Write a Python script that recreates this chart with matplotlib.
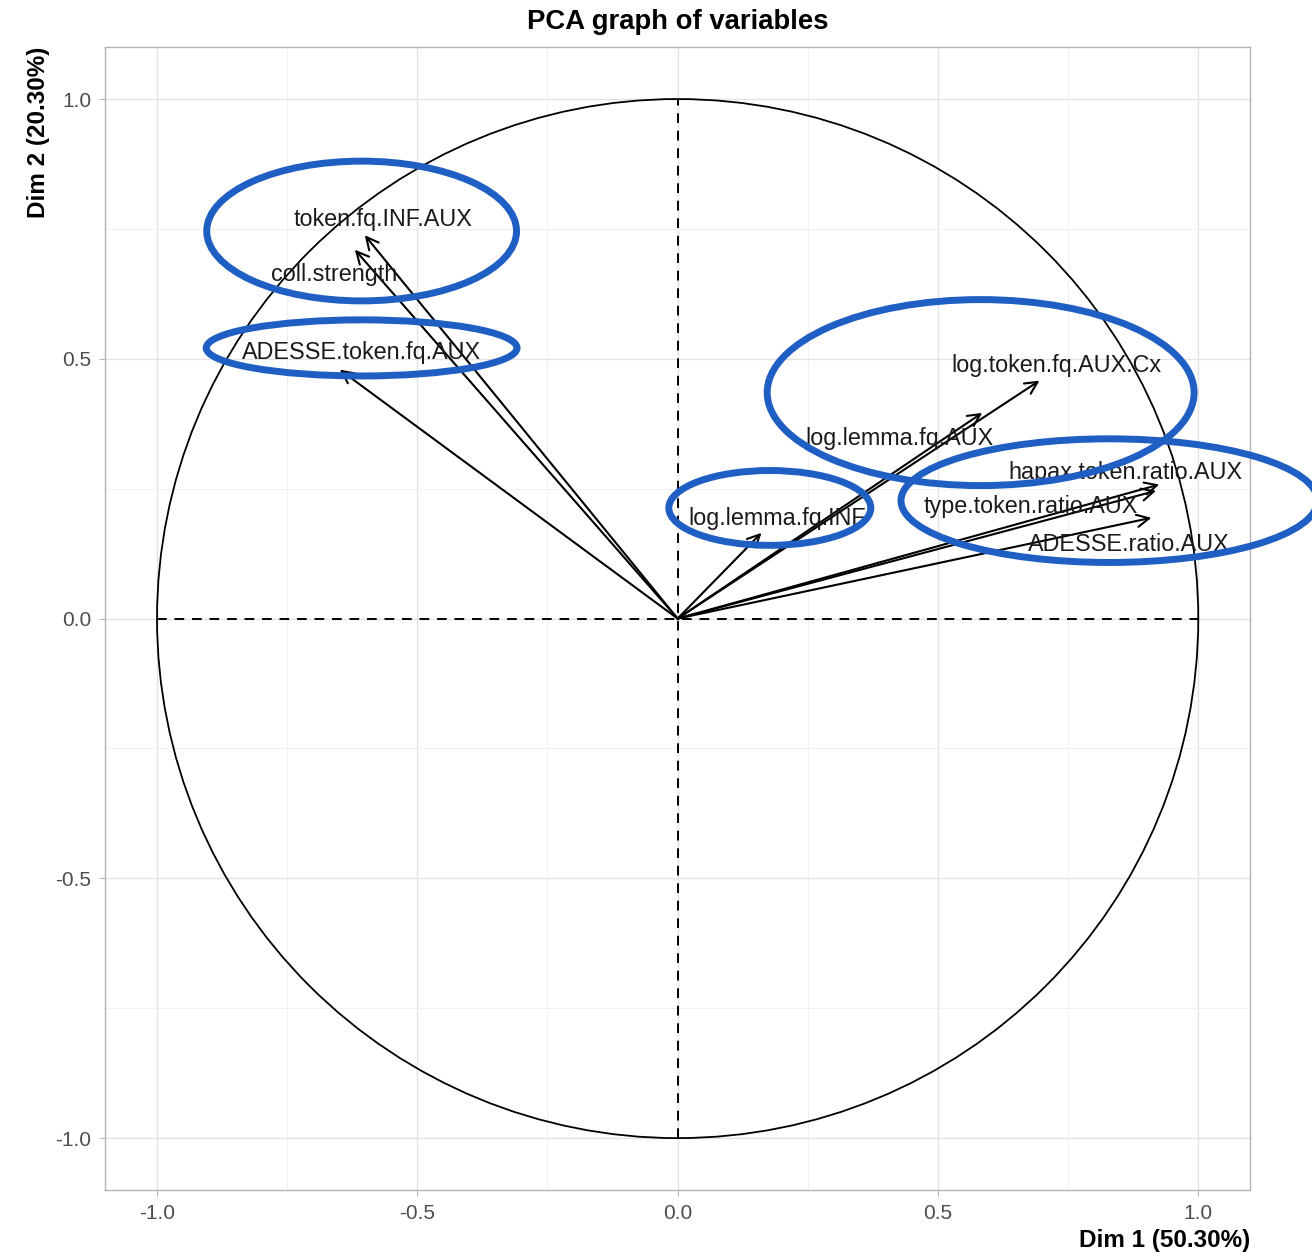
import numpy as np
import matplotlib
matplotlib.use("Agg")
import matplotlib.pyplot as plt
from matplotlib.patches import Circle, Ellipse

plt.rcParams["font.family"] = ["Liberation Sans", "DejaVu Sans"]

# variable coordinates on Dim 1 / Dim 2
variables = [
    "token.fq.INF.AUX", "coll.strength", "ADESSE.token.fq.AUX",
    "log.token.fq.AUX.Cx", "log.lemma.fq.AUX", "hapax.token.ratio.AUX",
    "type.token.ratio.AUX", "ADESSE.ratio.AUX", "log.lemma.fq.INF",
]
dim1 = [-0.601, -0.620, -0.649, 0.695, 0.585, 0.925, 0.919, 0.910, 0.161]
dim2 = [0.738, 0.710, 0.479, 0.458, 0.396, 0.258, 0.246, 0.194, 0.165]

# where each label is drawn (repelled positions)
label_x = [-0.566, -0.660, -0.608, 0.727, 0.426, 0.860, 0.679, 0.866, 0.192]
label_y = [0.768, 0.662, 0.512, 0.487, 0.347, 0.281, 0.216, 0.143, 0.193]

# hand-drawn highlight ellipses: centre x, centre y, width, height
ell_x = [-0.607, -0.607, 0.582, 0.829, 0.177]
ell_y = [0.746, 0.521, 0.435, 0.227, 0.213]
ell_w = [0.595, 0.597, 0.820, 0.800, 0.388]
ell_h = [0.269, 0.108, 0.358, 0.238, 0.144]

dim1_pct = 50.30
dim2_pct = 20.30

fig = plt.figure(figsize=(13.12, 12.56), dpi=100)
ax = fig.add_axes([0.080, 0.0525, 0.873, 0.910])

ax.set_xlim(-1.1, 1.1)
ax.set_ylim(-1.1, 1.1)

# grid like ggplot theme_light
ax.set_xticks([-1.0, -0.5, 0.0, 0.5, 1.0])
ax.set_yticks([-1.0, -0.5, 0.0, 0.5, 1.0])
ax.set_xticks([-0.75, -0.25, 0.25, 0.75], minor=True)
ax.set_yticks([-0.75, -0.25, 0.25, 0.75], minor=True)
ax.grid(which="major", color="#e3e3e3", linewidth=1.0, zorder=0)
ax.grid(which="minor", color="#f0f0f0", linewidth=0.7, zorder=0)
ax.tick_params(which="minor", length=0)
ax.tick_params(which="major", length=4, width=0.8, color="#b3b3b3",
               labelsize=15, labelcolor="#4d4d4d", pad=6)
ax.set_xticklabels(["-1.0", "-0.5", "0.0", "0.5", "1.0"])
ax.set_yticklabels(["-1.0", "-0.5", "0.0", "0.5", "1.0"])
for sp in ax.spines.values():
    sp.set_color("#b3b3b3")
    sp.set_linewidth(1.0)

# unit circle and dashed axes
ax.add_patch(Circle((0, 0), 1.0, fill=False, edgecolor="black", linewidth=1.3, zorder=2))
ax.plot([-1, 1], [0, 0], color="black", linestyle=(0, (5, 4)), linewidth=1.4, zorder=2)
ax.plot([0, 0], [-1, 1], color="black", linestyle=(0, (5, 4)), linewidth=1.4, zorder=2)

# arrows
for x, y in zip(dim1, dim2):
    ax.annotate("", xy=(x, y), xytext=(0, 0),
                arrowprops=dict(arrowstyle="->", color="black", lw=1.5,
                                mutation_scale=22, shrinkA=0, shrinkB=0),
                zorder=3)

for name, lx, ly in zip(variables, label_x, label_y):
    ax.text(lx, ly, name, ha="center", va="center", fontsize=16.8,
            color="#1a1a1a", zorder=4)

for cx, cy, w, h in zip(ell_x, ell_y, ell_w, ell_h):
    ax.add_patch(Ellipse((cx, cy), w, h, fill=False, edgecolor="#1f5fc4",
                         linewidth=5, zorder=5, clip_on=False))

ax.set_title("PCA graph of variables", fontsize=19.8, fontweight="bold", pad=13)
ax.set_xlabel(f"Dim 1 ({dim1_pct:.2f}%)", fontsize=17.5, fontweight="bold",
              loc="right", labelpad=4)
ax.set_ylabel(f"Dim 2 ({dim2_pct:.2f}%)", fontsize=17.5, fontweight="bold",
              loc="top", labelpad=4)

fig.savefig("out.png", dpi=100)
